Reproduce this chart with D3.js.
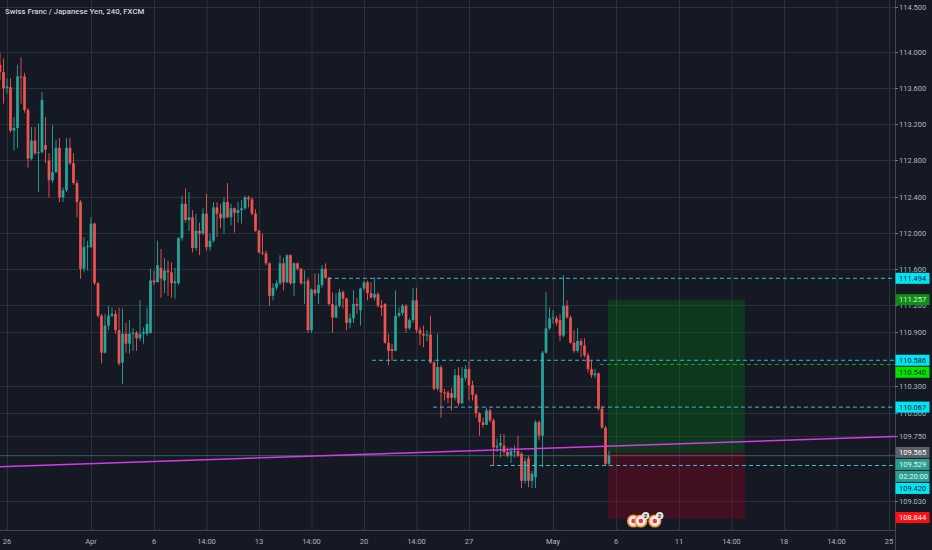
<!DOCTYPE html>
<html>
<head>
<meta charset="utf-8">
<script src="https://cdn.jsdelivr.net/npm/d3@7"></script>
<style>
  body { margin: 0; background: #151924; }
  svg { display: block; }
  text { font-family: Roboto, "DejaVu Sans", sans-serif; }
</style>
</head>
<body>
<svg id="chart" width="932" height="550"></svg>
<script>
// CHF/JPY 4h candles, [open, high, low, close]
var bars = [
  [113.86,113.99,113.69,113.78],[113.78,113.93,113.43,113.60],[113.60,113.71,113.54,113.62],[113.61,113.71,113.11,113.13],
  [113.13,113.28,112.91,113.16],[113.16,113.86,112.94,113.73],[113.73,113.94,113.43,113.72],[113.73,113.77,113.33,113.36],
  [113.36,113.38,112.72,112.82],[112.82,113.17,112.80,113.02],[113.02,113.17,112.86,112.88],[112.88,113.21,112.45,112.89],
  [112.89,113.56,112.88,113.47],[112.97,113.28,112.77,112.92],[112.80,112.88,112.39,112.58],[112.58,113.19,112.55,112.67],
  [112.67,113.03,112.66,112.94],[112.94,113.05,112.34,112.39],[112.39,112.50,112.34,112.47],[112.47,113.05,112.45,112.94],
  [112.94,113.05,112.75,112.77],[112.77,112.88,112.53,112.55],[112.55,112.58,112.17,112.34],[112.34,112.36,111.49,111.60],
  [111.60,111.95,111.56,111.84],[111.84,111.91,111.58,111.85],[111.84,112.17,111.83,112.10],[112.10,112.11,111.42,111.44],
  [111.44,111.45,111.06,111.08],[111.08,111.10,110.55,110.67],[110.67,111.10,110.66,110.97],[110.97,111.19,110.92,111.08],
  [111.08,111.17,111.06,111.10],[111.10,111.14,110.88,110.92],[110.92,111.17,110.53,110.55],[110.56,111.16,110.32,110.88],
  [110.88,111.00,110.67,110.77],[110.77,111.03,110.66,110.88],[110.88,110.94,110.69,110.89],[110.89,110.91,110.69,110.83],
  [110.83,111.25,110.80,110.88],[110.88,110.95,110.77,110.90],[110.88,111.17,110.86,110.99],[110.89,111.60,110.88,111.47],
  [111.47,111.58,111.42,111.45],[111.45,111.91,111.45,111.64],[111.61,111.82,111.28,111.49],[111.47,111.72,111.33,111.58],
  [111.58,111.69,111.30,111.56],[111.56,111.67,111.28,111.44],[111.44,111.61,111.27,111.46],[111.44,111.95,111.42,111.94],
  [111.94,112.41,111.91,112.32],[112.32,112.49,112.11,112.14],[112.14,112.45,112.02,112.17],[112.17,112.25,111.78,111.83],
  [111.83,112.21,111.80,112.02],[112.02,112.11,111.75,111.99],[111.99,112.27,111.97,112.21],[112.21,112.43,111.80,111.84],
  [111.84,111.99,111.80,111.91],[111.91,112.34,111.89,112.28],[112.28,112.34,111.95,112.21],[112.21,112.32,112.05,112.16],
  [112.16,112.39,111.99,112.34],[112.34,112.55,112.16,112.17],[112.17,112.32,112.08,112.27],[112.27,112.28,112.00,112.22],
  [112.22,112.34,112.11,112.25],[112.25,112.36,112.10,112.27],[112.27,112.41,112.25,112.39],[112.39,112.41,112.28,112.37],
  [112.37,112.39,112.19,112.21],[112.21,112.26,112.01,112.02],[112.02,112.03,111.77,111.78],[111.78,111.99,111.75,111.77],
  [111.77,111.80,111.64,111.66],[111.66,111.67,111.19,111.30],[111.30,111.44,111.25,111.39],[111.39,111.47,111.36,111.44],
  [111.44,111.75,111.42,111.66],[111.66,111.72,111.36,111.45],[111.45,111.76,111.44,111.75],[111.75,111.76,111.42,111.44],
  [111.44,111.67,111.30,111.66],[111.66,111.67,111.58,111.60],[111.60,111.61,111.42,111.44],[111.44,111.58,111.21,111.45],
  [111.47,111.50,110.89,110.92],[110.92,111.38,110.89,111.37],[111.37,111.55,111.30,111.33],[111.33,111.55,111.21,111.42],
  [111.42,111.64,111.39,111.60],[111.60,111.66,111.49,111.50],[111.50,111.51,111.19,111.21],[111.21,111.34,110.89,111.06],
  [111.06,111.33,111.05,111.19],[111.19,111.38,111.17,111.34],[111.34,111.36,111.16,111.27],[111.27,111.28,110.92,111.00],
  [111.00,111.10,110.94,111.05],[111.05,111.36,111.00,111.21],[111.21,111.28,111.10,111.19],[111.14,111.39,110.97,111.38],
  [111.38,111.47,111.36,111.45],[111.45,111.47,111.25,111.33],[111.33,111.45,111.27,111.28],[111.28,111.50,111.25,111.32],
  [111.32,111.34,111.17,111.19],[111.19,111.25,111.08,111.17],[111.21,111.22,110.77,110.78],[110.78,110.88,110.53,110.69],
  [110.71,110.77,110.58,110.69],[110.69,111.36,110.69,111.08],[111.08,111.17,111.06,111.11],[111.11,111.21,111.08,111.19],
  [111.19,111.21,110.89,110.94],[110.94,111.05,110.92,111.03],[111.03,111.39,111.00,111.25],[111.25,111.39,110.89,110.92],
  [110.92,110.95,110.75,110.88],[110.88,110.97,110.73,110.86],[110.86,110.92,110.80,110.87],[110.87,111.08,110.55,110.56],
  [110.56,110.58,110.25,110.27],[110.27,110.88,110.25,110.51],[110.51,110.53,109.95,110.23],[110.23,110.27,110.14,110.22],
  [110.23,110.25,110.11,110.17],[110.22,110.28,110.03,110.17],[110.17,110.49,110.14,110.42],[110.42,110.51,110.08,110.11],
  [110.11,110.51,110.10,110.39],[110.39,110.53,110.36,110.49],[110.49,110.58,110.14,110.31],[110.31,110.36,110.14,110.20],
  [110.20,110.22,109.95,110.00],[110.00,110.01,109.75,109.90],[109.90,109.95,109.84,109.87],[109.87,110.06,109.87,110.03],
  [110.03,110.05,109.90,109.92],[109.92,109.94,109.42,109.62],[109.62,109.72,109.57,109.64],[109.64,109.77,109.51,109.67],
  [109.64,109.77,109.54,109.57],[109.57,109.62,109.51,109.53],[109.53,109.62,109.45,109.58],[109.57,109.64,109.51,109.58],
  [109.58,109.75,109.51,109.53],[109.55,109.57,109.17,109.25],[109.25,109.51,109.22,109.47],[109.50,109.53,109.18,109.25],
  [109.25,109.36,109.17,109.33],[109.29,109.92,109.17,109.90],[109.90,109.92,109.70,109.75],[109.75,110.69,109.40,110.67],
  [110.67,111.34,110.66,110.94],[110.94,111.17,110.92,111.05],[111.05,111.14,110.99,111.06],[111.05,111.08,110.97,111.00],
  [111.03,111.10,110.80,110.86],[110.86,111.53,110.84,111.19],[111.19,111.25,111.05,111.06],[111.06,111.08,110.77,110.78],
  [110.78,110.92,110.67,110.69],[110.69,110.94,110.67,110.80],[110.80,110.83,110.62,110.75],[110.75,110.83,110.62,110.64],
  [110.64,110.67,110.45,110.49],[110.49,110.58,110.39,110.42],[110.42,110.49,110.39,110.44],[110.44,110.45,110.03,110.05],
  [110.05,110.08,109.83,109.84],[109.84,109.86,109.42,109.44],[109.44,109.58,109.42,109.529]
];

var priceTicks = [114.5, 114.0, 113.6, 113.2, 112.8, 112.4, 112.0, 111.6, 111.2, 110.9, 110.3, 110.0, 109.75, 109.03];
var timeTickBars = [2, 26, 44, 59, 74, 89, 104, 119, 134, 158, 176, 194, 209, 224, 239, 254];
var timeTickLabels = ["26", "Apr", "6", "14:00", "13", "14:00", "20", "14:00", "27", "May", "6", "11", "14:00", "18", "14:00", "25"];

// horizontal rays
var rayPrices = [111.494, 110.586, 110.540, 110.067, 109.420];
var rayStartBars = [93.7, 106.3, 171.4, 123.7, 140];
var rayColors = ["#35bfcc", "#35bfcc", "#1f9e2a", "#35bfcc", "#35bfcc"];

// trend line
var trendBars = [0, 256];
var trendPrices = [109.407, 109.742];

// long position tool
var positionBars = [173.7, 212.8];
var targetPrice = 111.257, entryPrice = 109.565, stopPrice = 108.844;

var lastPrice = 109.529;
var countdown = "02:20:00";

// event markers at the bottom
var eventBars = [181, 183.1, 187.1];
var eventCounts = [1, 2, 2];

// coloured price labels on the axis
var labelPrices = [111.494, 111.257, 110.586, 110.540, 110.067, 109.565, 109.529, 109.420, 108.844];
var labelBg = ["#00e5f5", "#118c18", "#00e5f5", "#00e600", "#00e5f5", "#5d606b", "#2a9d8f", "#00e5f5", "#ff1010"];
var labelFg = ["#10202a", "#cdf5cd", "#10202a", "#0a2a0a", "#10202a", "#ffffff", "#e0f7f4", "#10202a", "#ffffff"];

var W = 932, H = 550, paneRight = 895, paneBottom = 530;
var upColor = "#26a69a", downColor = "#ef5350";

var svg = d3.select("#chart");
var x = d3.scaleLinear().domain([0, 256]).range([0, 896]);
var y = d3.scaleLinear().domain([108.844, 114.5]).range([517.5, 7]);

svg.append("rect").attr("width", W).attr("height", H).attr("fill", "#151924");

svg.append("defs").append("clipPath").attr("id", "pane")
  .append("rect").attr("width", paneRight).attr("height", paneBottom);

var pane = svg.append("g").attr("clip-path", "url(#pane)");

// grid
pane.selectAll(".vgrid").data(timeTickBars).enter().append("line")
  .attr("x1", function(d){ return x(d) + 0.5; }).attr("x2", function(d){ return x(d) + 0.5; })
  .attr("y1", 0).attr("y2", paneBottom)
  .attr("stroke", "#2c303b").attr("stroke-width", 1);

pane.selectAll(".hgrid").data(priceTicks).enter().append("line")
  .attr("x1", 0).attr("x2", paneRight)
  .attr("y1", function(d){ return Math.round(y(d)) + 0.5; })
  .attr("y2", function(d){ return Math.round(y(d)) + 0.5; })
  .attr("stroke", "#2c303b").attr("stroke-width", 1);

// position boxes
pane.append("rect")
  .attr("x", x(positionBars[0])).attr("width", x(positionBars[1]) - x(positionBars[0]))
  .attr("y", y(targetPrice)).attr("height", y(entryPrice) - y(targetPrice))
  .attr("fill", "rgba(0,125,20,0.32)");
pane.append("rect")
  .attr("x", x(positionBars[0])).attr("width", x(positionBars[1]) - x(positionBars[0]))
  .attr("y", y(entryPrice)).attr("height", y(stopPrice) - y(entryPrice) + 1.5)
  .attr("fill", "rgba(155,0,25,0.32)");

// candles
var candle = pane.selectAll(".candle").data(bars).enter().append("g");
candle.append("line")
  .attr("x1", function(d, i){ return x(i); }).attr("x2", function(d, i){ return x(i); })
  .attr("y1", function(d){ return y(d[1]); }).attr("y2", function(d){ return y(d[2]); })
  .attr("stroke", function(d){ return d[3] >= d[0] ? upColor : downColor; })
  .attr("stroke-width", 0.9);
candle.append("rect")
  .attr("x", function(d, i){ return x(i) - 1.35; })
  .attr("width", 2.7)
  .attr("y", function(d){ return y(Math.max(d[0], d[3])); })
  .attr("height", function(d){ return Math.max(1, Math.abs(y(d[0]) - y(d[3]))); })
  .attr("fill", function(d){ return d[3] >= d[0] ? upColor : downColor; });

// last price line
pane.append("line")
  .attr("x1", 0).attr("x2", paneRight)
  .attr("y1", y(lastPrice)).attr("y2", y(lastPrice))
  .attr("stroke", "rgba(90,150,150,0.55)").attr("stroke-width", 1);

// rays
pane.selectAll(".ray").data(rayPrices).enter().append("line")
  .attr("x1", function(d, i){ return x(rayStartBars[i]); }).attr("x2", paneRight)
  .attr("y1", function(d){ return y(d); }).attr("y2", function(d){ return y(d); })
  .attr("stroke", function(d, i){ return rayColors[i]; })
  .attr("stroke-width", 1).attr("stroke-dasharray", "4,3");

// trend line
pane.append("line")
  .attr("x1", x(trendBars[0])).attr("x2", x(trendBars[1]))
  .attr("y1", y(trendPrices[0])).attr("y2", y(trendPrices[1]))
  .attr("stroke", "#d63ae6").attr("stroke-width", 1.5);

// event markers
var ev = pane.selectAll(".ev").data(eventBars).enter().append("g")
  .attr("transform", function(d){ return "translate(" + x(d) + "," + (paneBottom - 9) + ")"; });
ev.append("circle").attr("r", 5.8).attr("fill", "#f4e8e8").attr("stroke", "#e89a2c").attr("stroke-width", 1.5);
ev.append("circle").attr("r", 2.2).attr("fill", "#e8344a");
var badge = ev.filter(function(d, i){ return eventCounts[i] > 1; });
badge.append("circle").attr("cx", 4.8).attr("cy", -5.2).attr("r", 3.8).attr("fill", "#e6e6e6");
badge.append("text").attr("x", 4.8).attr("y", -5.2).attr("dy", "0.35em")
  .attr("text-anchor", "middle").attr("font-size", 6.2).attr("font-weight", 700).attr("fill", "#222")
  .text(function(d){ return eventCounts[eventBars.indexOf(d)]; });

// axes borders
svg.append("line").attr("x1", paneRight + 0.5).attr("x2", paneRight + 0.5).attr("y1", 0).attr("y2", H)
  .attr("stroke", "#434651");
svg.append("line").attr("x1", 0).attr("x2", paneRight).attr("y1", paneBottom + 0.5).attr("y2", paneBottom + 0.5)
  .attr("stroke", "#434651");

// price axis
var fmt = d3.format(".3f");
var pt = svg.selectAll(".ptick").data(priceTicks).enter().append("g")
  .attr("transform", function(d){ return "translate(" + paneRight + "," + Math.round(y(d)) + ")"; });
pt.append("line").attr("x1", 0).attr("x2", 3).attr("y1", 0.5).attr("y2", 0.5).attr("stroke", "#787b86");
pt.append("text").attr("x", 4).attr("dy", "0.35em").attr("font-size", 7.5).attr("fill", "#b2b5be")
  .text(function(d){ return fmt(d); });

// coloured labels, pushed apart where they overlap; countdown sits right under the last price
var labels = labelPrices.map(function(p, i){
  return { text: fmt(p), y: y(p), bg: labelBg[i], fg: labelFg[i] };
});
var li = labelPrices.indexOf(lastPrice);
labels.splice(li + 1, 0, { text: countdown, y: y(lastPrice) + 0.01, bg: labelBg[li], fg: labelFg[li] });
labels.sort(function(a, b){ return a.y - b.y; });
for (var k = 1; k < labels.length; k++) {
  labels[k].y = Math.max(labels[k].y, labels[k - 1].y + 12);
}
var lg = svg.selectAll(".plabel").data(labels).enter().append("g")
  .attr("transform", function(d){ return "translate(" + paneRight + "," + d.y + ")"; });
lg.append("rect").attr("x", 0.5).attr("y", -5.5).attr("width", 34).attr("height", 11)
  .attr("fill", function(d){ return d.bg; });
lg.append("text").attr("x", 4).attr("dy", "0.35em").attr("font-size", 7.5)
  .attr("fill", function(d){ return d.fg; })
  .text(function(d){ return d.text; });

// time axis
svg.selectAll(".ttick").data(timeTickBars).enter().append("text")
  .attr("x", function(d){ return x(d); }).attr("y", 541).attr("dy", "0.35em")
  .attr("text-anchor", "middle").attr("font-size", 7.5).attr("fill", "#b2b5be")
  .text(function(d, i){ return timeTickLabels[i]; });

// title
svg.append("text").attr("x", 5).attr("y", 11).attr("dy", "0.35em")
  .attr("font-size", 7.8).attr("font-weight", 500).attr("fill", "#d1d4dc")
  .text("Swiss Franc / Japanese Yen, 240, FXCM");
</script>
</body>
</html>
